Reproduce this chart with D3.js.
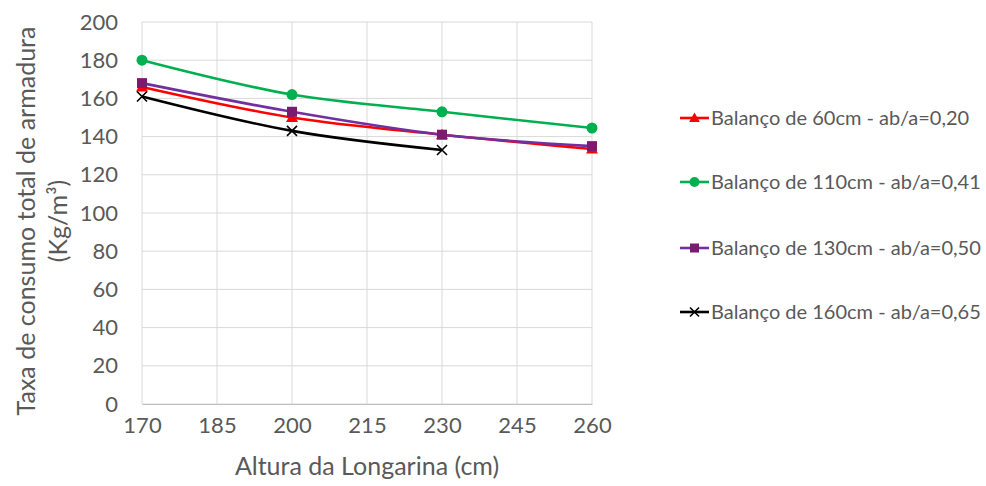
<!DOCTYPE html>
<html>
<head>
<meta charset="utf-8">
<script src="https://cdn.jsdelivr.net/npm/d3@7"></script>
<style>
  body { margin: 0; background: #fff; font-family: Lato, "Open Sans", sans-serif; }
  .tick text { fill: #595959; }
</style>
</head>
<body>
<div id="container"><svg></svg></div>
<script>
let width = 986;
let height = 486;

// data
let alturas = [170, 200, 230, 260];
let xTicks = [170, 185, 200, 215, 230, 245, 260];
let yTicks = [0, 20, 40, 60, 80, 100, 120, 140, 160, 180, 200];
let balanco60 = [166, 150, 141, 133.5];
let balanco110 = [180, 162, 153, 144.5];
let balanco130 = [168, 153, 141, 135];
let balanco160 = [161, 143, 133];
let seriesNames = [
    'Balanço de 60cm - ab/a=0,20',
    'Balanço de 110cm - ab/a=0,41',
    'Balanço de 130cm - ab/a=0,50',
    'Balanço de 160cm - ab/a=0,65'
];

let series = [
    {name: seriesNames[0], values: balanco60, color: '#ff0000', mark: '#ff0000', shape: 'triangle'},
    {name: seriesNames[1], values: balanco110, color: '#00b050', mark: '#00b050', shape: 'circle'},
    {name: seriesNames[2], values: balanco130, color: '#7030a0', mark: '#7b1a70', shape: 'square'},
    {name: seriesNames[3], values: balanco160, color: '#000000', mark: '#000000', shape: 'x'}
];

let padding = {left: 142, right: 394, top: 22, bottom: 82};

let svg = d3.select('#container').select('svg')
    .attr('width', width)
    .attr('height', height);

let x = d3.scaleLinear().domain([170, 260]).range([padding.left, width - padding.right]);
let y = d3.scaleLinear().domain([0, 200]).range([height - padding.bottom, padding.top]);

// grid
svg.append('g')
    .selectAll('line.h')
    .data(yTicks)
    .enter()
    .append('line')
    .attr('x1', x(170)).attr('x2', x(260))
    .attr('y1', d => y(d)).attr('y2', d => y(d))
    .attr('stroke', '#d9d9d9').attr('stroke-width', 1);
svg.append('g')
    .selectAll('line.v')
    .data(xTicks)
    .enter()
    .append('line')
    .attr('x1', d => x(d)).attr('x2', d => x(d))
    .attr('y1', y(0)).attr('y2', y(200))
    .attr('stroke', '#d9d9d9').attr('stroke-width', 1);

// axes
let xAxis = svg.append('g')
    .attr('transform', `translate(0, ${y(0)})`)
    .call(d3.axisBottom(x).tickValues(xTicks).tickSize(0).tickPadding(13));
xAxis.select('.domain').attr('stroke', '#bfbfbf');
xAxis.selectAll('text').style('font-size', '22px').style('font-family', 'Lato, sans-serif');

let yAxis = svg.append('g')
    .attr('transform', `translate(${x(170)}, 0)`)
    .call(d3.axisLeft(y).tickValues(yTicks).tickSize(0).tickPadding(24));
yAxis.select('.domain').remove();
yAxis.selectAll('text').style('font-size', '22px').style('font-family', 'Lato, sans-serif');

// titles
svg.append('text')
    .attr('x', (x(170) + x(260)) / 2)
    .attr('y', 475)
    .attr('text-anchor', 'middle')
    .attr('fill', '#595959')
    .style('font-size', '25px')
    .text('Altura da Longarina (cm)');

let yt = svg.append('g')
    .attr('transform', `translate(0, 221) rotate(-90)`)
    .attr('fill', '#595959')
    .style('font-size', '25px');
yt.append('text').attr('x', 0).attr('y', 35).attr('text-anchor', 'middle')
    .text('Taxa de consumo total de armadura');
yt.append('text').attr('x', 0).attr('y', 67).attr('text-anchor', 'middle')
    .text('(Kg/m³)');

// lines
let line = d3.line()
    .x((d, i) => x(alturas[i]))
    .y(d => y(d))
    .curve(d3.curveCatmullRom.alpha(0));

function drawMark(g, shape, color, cx, cy, s) {
    if (shape == 'circle') {
        g.append('circle').attr('cx', cx).attr('cy', cy).attr('r', s * 0.55).attr('fill', color);
    } else if (shape == 'square') {
        g.append('rect').attr('x', cx - s / 2).attr('y', cy - s / 2).attr('width', s).attr('height', s).attr('fill', color);
    } else if (shape == 'triangle') {
        g.append('path')
            .attr('d', `M${cx},${cy - s * 0.6}L${cx + s * 0.6},${cy + s * 0.45}L${cx - s * 0.6},${cy + s * 0.45}Z`)
            .attr('fill', color);
    } else {
        let h = s / 2;
        g.append('path')
            .attr('d', `M${cx - h},${cy - h}L${cx + h},${cy + h}M${cx - h},${cy + h}L${cx + h},${cy - h}`)
            .attr('stroke', color).attr('stroke-width', 1.6).attr('fill', 'none');
    }
}

for (var i = 0; i < series.length; ++i) {
    let s = series[i];
    let g = svg.append('g');
    g.append('path')
        .attr('d', line(s.values))
        .attr('fill', 'none')
        .attr('stroke', s.color)
        .attr('stroke-width', 2.6);
    for (var j = 0; j < s.values.length; ++j) {
        drawMark(g, s.shape, s.mark, x(alturas[j]), y(s.values[j]), 10);
    }
}

// legend
let legendY = [118, 182, 248, 312];
for (var i = 0; i < series.length; ++i) {
    let s = series[i];
    let g = svg.append('g');
    g.append('line')
        .attr('x1', 680).attr('x2', 709)
        .attr('y1', legendY[i]).attr('y2', legendY[i])
        .attr('stroke', s.color).attr('stroke-width', 2.6);
    drawMark(g, s.shape, s.mark, 694.5, legendY[i], 9);
    g.append('text')
        .attr('x', 711)
        .attr('y', legendY[i] + 7)
        .attr('fill', '#595959')
        .style('font-size', '20px')
        .text(s.name);
}
</script>
</body>
</html>
